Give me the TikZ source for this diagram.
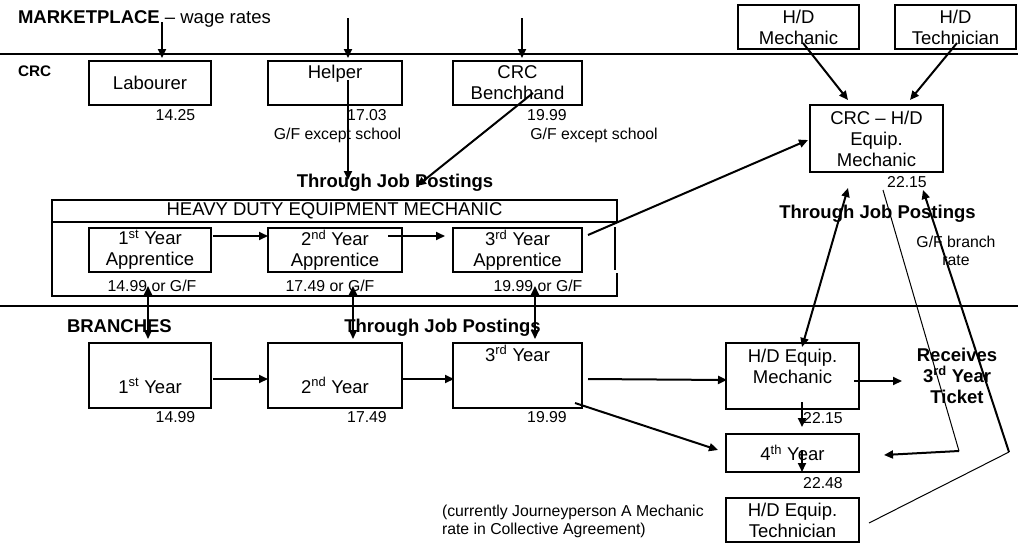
\documentclass[tikz,border=0pt]{standalone}
\usepackage{fontspec}
\setmainfont{Liberation Sans}
\usetikzlibrary{arrows.meta,calc}
\begin{document}
\begin{tikzpicture}[x=1pt,y=-1pt,
  big/.style={font=\fontsize{18.5}{21}\selectfont},
  small/.style={font=\fontsize{15.8}{18}\selectfont},
  bbig/.style={font=\fontsize{18.5}{21}\selectfont\bfseries},
  box/.style={draw,line width=2pt,inner sep=0pt,outer sep=0pt,align=center,big},
  txt/.style={inner sep=0pt,outer sep=0pt},
  arr/.style={line width=2pt,-{Triangle[length=9pt,width=8pt]}},
  darr/.style={line width=2pt,{Triangle[length=9pt,width=8pt]}-{Triangle[length=9pt,width=8pt]}},
  thinline/.style={line width=1pt},
  rule/.style={line width=2pt}]
\useasboundingbox (0,0) rectangle (1018,544);
% separators
\draw[rule] (0,54) -- (1018,54);
\draw[rule] (0,306) -- (1018,306);
% labels
\node[txt,big,anchor=base west] (mkt) at (18,23) {\textbf{MARKETPLACE} – wage rates};
\node[txt,font=\fontsize{15.3}{18}\selectfont\bfseries,anchor=base west] (crc) at (18,76) {CRC};
\node[txt,bbig,anchor=base west] (branches) at (67,332) {BRANCHES};
% CRC boxes
\node[box,minimum width=122pt,minimum height=44pt] (lab) at (150,83) {Labourer};
\node[box,minimum width=134pt,minimum height=44pt] (helper) at (335,83) {};
\node[txt,big,anchor=base] (helpertxt) at (335,78) {Helper};
\node[box,minimum width=129pt,minimum height=44pt] (bench) at (517.5,83) {CRC\\Benchhand};
\node[txt,small,anchor=base] (w1) at (175.5,120) {14.25};
\node[txt,small,anchor=base] (w2) at (367,120) {17.03};
\node[txt,small,anchor=base] (w3) at (547,120) {19.99};
\node[txt,small,anchor=base] (gf1) at (337.5,139) {G/F except school};
\node[txt,small,anchor=base] (gf2) at (594,139) {G/F except school};
\node[txt,bbig,anchor=base] (tjp1) at (395,187) {Through Job Postings};
% heavy duty block
\node[box,minimum width=565pt,minimum height=22pt] (title) at (334.5,211) {HEAVY DUTY EQUIPMENT MECHANIC};
\draw[rule] (title.south west) -- (52,296) -- (617,296) -- (617,273);
\draw[rule] (615,227) -- (615,270);
\node[box,minimum width=122pt,minimum height=44pt] (app1) at (150,250) {1\textsuperscript{st} Year\\Apprentice};
\node[box,minimum width=134pt,minimum height=44pt] (app2) at (335,250) {2\textsuperscript{nd} Year\\Apprentice};
\node[box,minimum width=129pt,minimum height=44pt] (app3) at (517.5,250) {3\textsuperscript{rd} Year\\Apprentice};
\node[txt,small,anchor=base] (a1w) at (152,291) {14.99 or G/F};
\node[txt,small,anchor=base] (a2w) at (330,291) {17.49 or G/F};
\node[txt,small,anchor=base] (a3w) at (538,291) {19.99 or G/F};
% branches
\node[box,minimum width=122pt,minimum height=65pt] (br1) at (150,375.5) {};
\node[txt,big,anchor=base] (br1txt) at (150,393) {1\textsuperscript{st} Year};
\node[box,minimum width=134pt,minimum height=65pt] (br2) at (335,375.5) {};
\node[txt,big,anchor=base] (br2txt) at (335,393) {2\textsuperscript{nd} Year};
\node[box,minimum width=129pt,minimum height=65pt] (br3) at (517.5,375.5) {};
\node[txt,big,anchor=base] (br3txt) at (517.5,361) {3\textsuperscript{rd} Year};
\node[txt,bbig,anchor=base] (tjp2) at (442.5,332) {Through Job Postings};
\node[txt,small,anchor=base] (b1w) at (175.5,422) {14.99};
\node[txt,small,anchor=base] (b2w) at (367,422) {17.49};
\node[txt,small,anchor=base] (b3w) at (547,422) {19.99};
% right side
\node[box,minimum width=121pt,minimum height=44pt] (hdm) at (798.5,27) {H/D\\Mechanic};
\node[box,minimum width=121pt,minimum height=44pt] (hdt) at (955.5,27) {H/D\\Technician};
\node[box,minimum width=133pt,minimum height=67pt] (crchd) at (876.5,138.5) {CRC – H/D\\Equip.\\Mechanic};
\node[txt,small,anchor=base] (w4) at (907,187) {22.15};
\node[txt,bbig,anchor=base] (tjp3) at (877.5,218) {Through Job Postings};
\node[txt,small,align=center] (gfb) at (956,251) {G/F branch\\rate};
\node[box,minimum width=133pt,minimum height=66pt] (hdem) at (792.5,376) {};
\node[txt,big,align=center] (hdemtxt) at (792.5,366) {H/D Equip.\\Mechanic};
\node[txt,bbig,align=center] (recv) at (957,375.5) {Receives\\3\textsuperscript{rd} Year\\Ticket};
\node[txt,small,anchor=base] (w5) at (823,423) {22.15};
\node[box,minimum width=133pt,minimum height=38pt] (y4) at (792.5,453) {4\textsuperscript{th} Year};
\node[txt,small,anchor=base] (w6) at (823,488) {22.48};
\node[box,minimum width=133pt,minimum height=44pt] (hdet) at (792.5,520) {H/D Equip.\\Technician};
\node[txt,small,align=left,anchor=west] (note) at (442,521) {(currently Journeyperson A Mechanic\\rate in Collective Agreement)};
% connectors: marketplace
\draw[arr] ($(mkt.base west)+(144,-1)$) -- ($(lab.north)+(12,-3)$);
\coordinate (mk2) at (348,18);
\coordinate (mk3) at (522,18);
\draw[arr] (mk2) -- ($(helper.north)+(13,-3)$);
\draw[arr] (mk3) -- ($(bench.north)+(4.5,-3)$);
\draw[arr] ($(helper.south west)+(80,-25)$) -- ($(tjp1.base)+(-47,-7)$);
\draw[arr] ($(bench.center)+(15.5,10)$) -- ($(tjp1.base)+(22,-1)$);
\draw[arr] ($(hdm.center)+(4.5,16)$) -- ($(crchd.north west)+(38,-5)$);
\draw[arr] ($(hdt.center)+(1.5,16)$) -- ($(crchd.north west)+(100,-5)$);
\draw[arr] ($(app3.north east)+(6,7)$) -- ($(crchd.west)+(-2,1.5)$);
\draw[arr] ($(app1.east)+(2,-14)$) -- ($(app2.west)+(0,-14)$);
\draw[arr] ($(app2.east)+(-14,-14)$) -- ($(app3.west)+(-8,-14)$);
\draw[darr] ($(app1.south)+(-2,14)$) -- ($(br1.north)+(-2,-4)$);
\draw[darr] ($(app2.south)+(18,14)$) -- ($(br2.north)+(18,-4)$);
\draw[darr] ($(app3.south)+(17.5,14)$) -- ($(br3.north)+(17.5,-4)$);
\draw[arr] ($(br1.east)+(2,3.5)$) -- ($(br2.west)+(0,3.5)$);
\draw[arr] ($(br2.east)+(-1,3.5)$) -- ($(br3.west)+(1,3.5)$);
\draw[arr] ($(br3.east)+(6,3.5)$) -- ($(hdem.west)+(1,4)$);
\draw[arr] ($(br3.south east)+(-7,-5)$) -- ($(y4.west)+(-8,-3)$);
\draw[darr] ($(hdem.north)+(9.5,4)$) -- ($(crchd.south)+(-28.5,16)$);
\draw[arr] ($(hdem.east)+(-5,5)$) -- ($(recv.center)+(-55,5.5)$);
\draw[arr] ($(hdem.south)+(9.5,-7)$) -- ($(y4.north)+(9.5,-7)$);
\draw[arr] ($(y4.center)+(9.5,-3)$) -- ($(hdet.north)+(9.5,-26)$);
\coordinate (j1) at (959,451);
\coordinate (j2) at (1009,452);
\draw[thinline] ($(crchd.south)+(6.5,18)$) -- (j1);
\draw[arr] (j1) -- ($(y4.east)+(25,2)$);
\draw[arr] (j2) -- ($(crchd.south east)+(-20,18)$);
\draw[thinline] (j2) -- ($(hdet.east)+(10,3)$);
\end{tikzpicture}
\end{document}
